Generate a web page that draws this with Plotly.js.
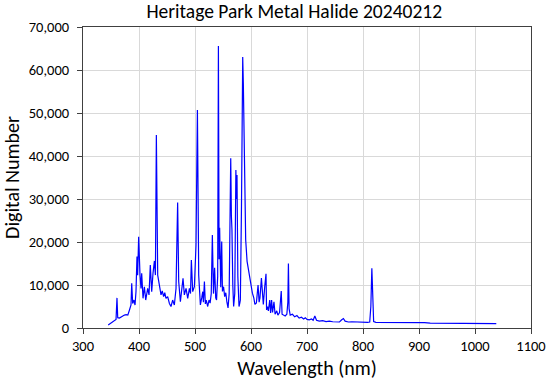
<!DOCTYPE html>
<html>
<head>
<meta charset="utf-8">
<script src="https://cdn.plot.ly/plotly-3.0.1.min.js"></script>
<style>html,body{margin:0;padding:0;background:#fff;}#chart{width:550px;height:385px;}</style>
</head>
<body>
<div id="chart"></div>
<script>
const wavelength = [
345,348,352,356,359,360.7,362,365,368,371,374,377,380,383,385.7,387,388.7,391,392.9,394.6,
396.4,397.6,399.4,401.8,403.6,404.8,407.2,409.6,412,415.5,417.9,420.2,422.7,425,427.5,429.3,431,433.4,436.4,439.3,
441.5,444,446,448.2,451.2,454.3,457.1,460.1,463.1,466.1,469,470.9,473.9,476.2,478.6,481,484,487,490,492,
493.5,495.9,498.9,501.8,504.3,506.6,509.6,512,513.8,515,516.8,518.5,520,522.7,525,527,529,531,533,535,
537,538.5,540.5,541.8,543,544,546,547.7,549,551,553,555,557,559,561,562.5,563.8,565,566,567.5,
569,571,573,574,575,576.5,578.6,580,581,583,584.3,585.2,586.3,587.6,589,590.5,593,596.4,599,602.5,
605,607,609.6,612.6,614.5,616,618.6,620.5,622,624.5,626.8,627.8,629.5,631,633.5,635,636.8,638.5,641,643,
646,648,651,654,655.5,658,661,664,665.8,666.8,668,670,674,678,682,686,690,694,697,700,
704,708,711,714,717,722,728,734,740,746,752,758,762,765,768,774,780,790,800,808,
812,814,815.8,817.5,819,823,830,840,850,860,870,880,890,900,910,920,940,960,980,1000,
1020,1038
];
const digitalNumber = [
700,1000,1300,1700,2000,7000,2400,2300,2600,2800,3000,3100,3000,4200,5350,10400,5700,6500,5350,8450,
16600,12300,21200,12300,9200,12700,6900,9600,6500,9200,7700,14650,8450,12700,15600,12300,44900,12300,9600,7700,
8600,7300,8200,6900,7300,5700,5000,6500,5350,9200,29200,10800,6100,8450,11550,7700,9200,6900,9200,8000,
15800,8450,9600,19300,50700,12300,5350,7000,8450,6000,10800,5600,6500,5000,6500,5800,8000,21600,8000,14000,
7000,6500,12000,65600,16000,23300,9500,20100,8500,9600,7300,8200,6000,4650,8000,20000,39500,26000,22800,10000,
5000,8000,36750,30000,35600,12000,5000,5800,6500,28200,52000,63000,57000,45000,30000,20500,15500,12800,10500,8100,
7000,5500,5800,10000,6000,7000,11600,6500,5500,9600,12600,4200,5000,4000,6500,3500,6500,3600,6100,3200,
4000,3000,3600,8600,3200,3000,2800,3200,6000,15000,4500,3000,3200,2600,2900,2300,2500,2100,2400,2000,
1900,2100,1800,2800,1800,1600,1700,1500,1600,1450,1500,1400,1900,2200,1600,1400,1450,1350,1300,1300,
1400,5000,13900,4000,1500,1300,1300,1350,1250,1250,1300,1250,1200,1200,1250,1150,1100,1100,1080,1050,
1050,1000
];
const xTicks = [300,400,500,600,700,800,900,1000,1100];
const yTicks = [0,10000,20000,30000,40000,50000,60000,70000];

const font = "Calibri, Carlito, Lato, sans-serif";
Plotly.newPlot('chart', [{
  x: wavelength, y: digitalNumber, type: 'scatter', mode: 'lines',
  line: {color: '#0000ff', width: 1.2}, hoverinfo: 'skip'
}], {
  width: 550, height: 385,
  margin: {l: 83, r: 19, t: 27, b: 57},
  paper_bgcolor: '#fff', plot_bgcolor: '#fff',
  showlegend: false,
  font: {family: font, color: '#000'},
  title: {text: 'Heritage Park Metal Halide 20240212', font: {size: 19.5, family: font, color: '#000'}, x: 0.535, xanchor: 'center', y: 0.99, yanchor: 'top'},
  xaxis: {
    range: [300, 1100], tickvals: xTicks, ticktext: xTicks.map(String),
    showgrid: true, gridcolor: '#d9d9d9', gridwidth: 1,
    showline: true, linecolor: '#404040', linewidth: 1, mirror: true,
    ticks: 'outside', ticklen: 5, tickcolor: '#404040',
    tickfont: {size: 14.5, family: font}, zeroline: false,
    title: {text: 'Wavelength (nm)', font: {size: 20, family: font}, standoff: 6}
  },
  yaxis: {
    range: [0, 70000], tickvals: yTicks, tickformat: ',d',
    showgrid: true, gridcolor: '#d9d9d9', gridwidth: 1,
    showline: true, linecolor: '#404040', linewidth: 1, mirror: true,
    ticks: 'outside', ticklen: 5, tickcolor: '#404040', ticklabelstandoff: 5,
    tickfont: {size: 14.5, family: font}, zeroline: false,
    title: {text: 'Digital Number', font: {size: 20, family: font}, standoff: 4}
  }
}, {staticPlot: true});
</script>
</body>
</html>
